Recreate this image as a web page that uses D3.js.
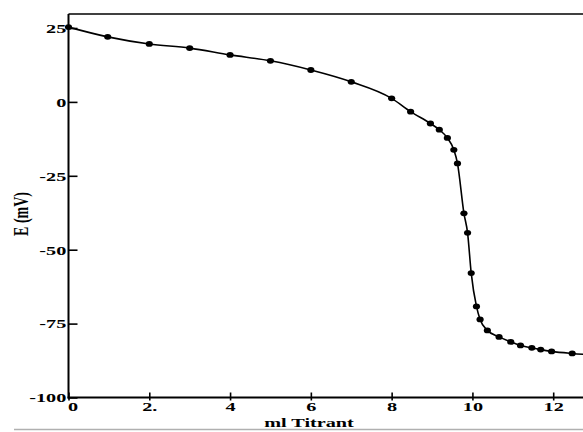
<!DOCTYPE html>
<html>
<head>
<meta charset="utf-8">
<script src="https://cdn.jsdelivr.net/npm/d3@7"></script>
<style>
  body { margin: 0; background: #fff; }
  svg { display: block; }
  text { font-family: "Liberation Serif", "Times New Roman", serif; font-weight: bold; fill: #000; }
</style>
</head>
<body>
<div id="chart"></div>
<script>
// titration points
const mlTitrant = [0, 0.97, 2, 3, 4, 5, 6, 7, 8, 8.47, 8.96, 9.18, 9.38, 9.54, 9.63, 9.79, 9.88, 9.97,
  10.1, 10.19, 10.37, 10.66, 10.95, 11.19, 11.47, 11.69, 11.96, 12.47];
const emV = [25.3, 22, 19.6, 18.2, 15.9, 13.9, 10.8, 6.8, 1.2, -3.3, -7.3, -9.4, -12.2, -16.2, -20.8, -37.7, -44.3, -57.9,
  -69.2, -73.6, -77.3, -79.5, -81.2, -82.4, -83.2, -83.8, -84.4, -85.1];
// the fitted curve runs on past the last point to the edge
const tailX = [13.0];
const tailE = [-85.6];

const xTicks = [0, 2, 4, 6, 8, 10, 12];
const xTickLabels = ["0", "2.", "4", "6", "8", "10", "12"];
const yTicks = [25, 0, -25, -50, -75, -100];

const W = 583, H = 432;
const stretch = "scale(1.5,1)"; // the scan is wide, text too

const svg = d3.select("#chart").append("svg").attr("width", W).attr("height", H);

const x = d3.scaleLinear().domain([0, 12.75]).range([68.5, 583.5]);
const y = d3.scaleLinear().domain([-100, 25]).range([397.5, 28]);

const points = mlTitrant.map((d, i) => ({ x: d, e: emV[i] }));
const curvePts = points.concat(tailX.map((d, i) => ({ x: d, e: tailE[i] })));

// top frame line
svg.append("line")
  .attr("x1", x(0)).attr("x2", W)
  .attr("y1", y(29.7)).attr("y2", y(29.7))
  .attr("stroke", "#000").attr("stroke-width", 1.5);

// y axis, ticks point inwards
const yAxis = svg.append("g")
  .attr("transform", `translate(${x(0)},0)`)
  .call(d3.axisLeft(y).tickValues(yTicks).tickFormat(d => String(d))
    .tickSizeInner(-9).tickSizeOuter(0).tickPadding(1.5));
yAxis.select(".domain").remove();
yAxis.selectAll(".tick line").attr("stroke", "#000").attr("stroke-width", 1.6);
yAxis.selectAll(".tick text")
  .attr("transform", stretch)
  .style("font-size", "13.5px")
  .attr("fill", "#000");
yAxis.append("line")
  .attr("y1", y(29.7)).attr("y2", y(-100) + 1)
  .attr("stroke", "#000").attr("stroke-width", 2);

// x axis, ticks cross the line
const xAxis = svg.append("g")
  .attr("transform", `translate(0,${y(-100)})`)
  .call(d3.axisBottom(x).tickValues(xTicks).tickFormat((d, i) => xTickLabels[i])
    .tickSizeInner(3).tickSizeOuter(0).tickPadding(0.5));
xAxis.select(".domain").remove();
xAxis.selectAll(".tick line").attr("y1", -5).attr("stroke", "#000").attr("stroke-width", 1.6);
xAxis.selectAll(".tick text")
  .style("font-size", "13.5px")
  .attr("fill", "#000")
  .attr("transform", (d, i) => (i === 0 ? "translate(4,0) " : "") + stretch);
xAxis.append("line")
  .attr("x1", x(0) - 1).attr("x2", W)
  .attr("stroke", "#000").attr("stroke-width", 2);

// curve
const line = d3.line()
  .x(d => x(d.x))
  .y(d => y(d.e))
  .curve(d3.curveMonotoneX);

svg.append("path")
  .datum(curvePts)
  .attr("d", line)
  .attr("fill", "none")
  .attr("stroke", "#000")
  .attr("stroke-width", 1.6);

svg.selectAll(".dot")
  .data(points)
  .enter()
  .append("ellipse")
  .attr("class", "dot")
  .attr("cx", d => x(d.x))
  .attr("cy", d => y(d.e))
  .attr("rx", 3.6)
  .attr("ry", 2.9)
  .attr("fill", "#000");

// axis titles
svg.append("text")
  .attr("transform", `translate(28,214) ${stretch} rotate(-90)`)
  .attr("text-anchor", "middle")
  .style("font-size", "14px")
  .text("E (mV)");

svg.append("text")
  .attr("transform", `translate(309,426.5) ${stretch}`)
  .attr("text-anchor", "middle")
  .style("font-size", "13.5px")
  .text("ml Titrant");

// grey rule along the bottom of the scan
svg.append("line")
  .attr("x1", 14).attr("x2", W)
  .attr("y1", 429.5).attr("y2", 429.5)
  .attr("stroke", "#b0b0b0").attr("stroke-width", 1.5);
</script>
</body>
</html>
